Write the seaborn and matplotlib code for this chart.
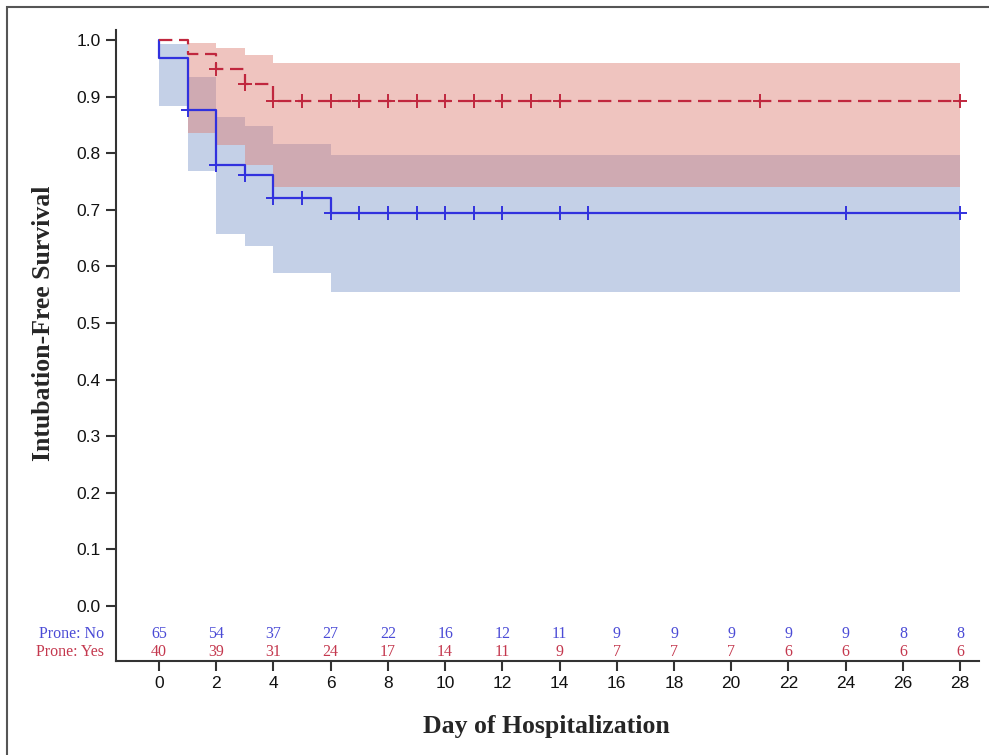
#!/usr/bin/env python3
# Kaplan-Meier: intubation-free survival by prone positioning

import numpy as np
import pandas as pd
import matplotlib
matplotlib.use('Agg')
import matplotlib.pyplot as plt
from matplotlib.patches import Rectangle
import seaborn as sns

# ---- data ----
# step curves (steps-post)
no_time = [0, 0, 1, 2, 3, 4, 6, 28]
no_surv = [1.0, 0.969, 0.877, 0.780, 0.761, 0.721, 0.694, 0.694]
yes_time = [0, 1, 2, 3, 4, 28]
yes_surv = [1.0, 0.975, 0.949, 0.922, 0.892, 0.892]

# censor times
no_censor = [1, 2, 3, 4, 5, 6, 7, 8, 9, 10, 11, 12, 14, 15, 24, 28]
yes_censor = [2, 3, 4, 5, 6, 7, 8, 9, 10, 11, 12, 13, 14, 21, 28]

# confidence bands
no_band_time = [0, 1, 2, 3, 4, 6, 28]
no_lower = [0.884, 0.769, 0.657, 0.636, 0.588, 0.555, 0.555]
no_upper = [0.993, 0.935, 0.864, 0.848, 0.816, 0.797, 0.797]
yes_band_time = [1, 2, 3, 4, 6, 28]
yes_lower = [0.836, 0.815, 0.779, 0.740, 0.740, 0.740]
yes_upper = [0.995, 0.986, 0.974, 0.959, 0.959, 0.959]

# number at risk
risk_days = [0, 2, 4, 6, 8, 10, 12, 14, 16, 18, 20, 22, 24, 26, 28]
risk_no = [65, 54, 37, 27, 22, 16, 12, 11, 9, 9, 9, 9, 9, 8, 8]
risk_yes = [40, 39, 31, 24, 17, 14, 11, 9, 7, 7, 7, 6, 6, 6, 6]

blue = '#3131DE'
red = '#C0273E'
blue_txt = '#4B4BD6'
red_txt = '#C4384E'

sns.set_style('ticks')
plt.rcParams['font.family'] = ['Liberation Sans', 'DejaVu Sans']
serif = ['Liberation Serif', 'DejaVu Serif']

fig = plt.figure(figsize=(9.89, 7.55), dpi=100)
ax = fig.add_axes([0.1173, 0.1245, 0.8726, 0.8358])

# bands
ax.fill_between(no_band_time, no_lower, no_upper, step='post',
                color='#C4D0E7', linewidth=0, zorder=1)
ax.fill_between(yes_band_time, yes_lower, yes_upper, step='post',
                color='#DD7C73', alpha=0.45, linewidth=0, zorder=2)

# survival curves
df_no = pd.DataFrame({'day': no_time, 'surv': no_surv})
df_yes = pd.DataFrame({'day': yes_time, 'surv': yes_surv})
sns.lineplot(data=df_no, x='day', y='surv', estimator=None, sort=False,
             drawstyle='steps-post', color=blue, linewidth=1.6, ax=ax, zorder=4)
sns.lineplot(data=df_yes, x='day', y='surv', estimator=None, sort=False,
             drawstyle='steps-post', color=red, linewidth=1.6, ax=ax, zorder=4)
ax.lines[-1].set_dashes((6, 3))


# censor marks placed on the step curve
def surv_at(times, surv, t):
    idx = np.searchsorted(times, t, side='right') - 1
    return surv[idx]


cen_no = pd.DataFrame({'day': no_censor,
                       'surv': [surv_at(no_time, no_surv, t) for t in no_censor]})
cen_yes = pd.DataFrame({'day': yes_censor,
                        'surv': [surv_at(yes_time, yes_surv, t) for t in yes_censor]})
sns.scatterplot(data=cen_no, x='day', y='surv', marker='+', s=110,
                color=blue, linewidth=1.4, ax=ax, zorder=5, clip_on=False)
sns.scatterplot(data=cen_yes, x='day', y='surv', marker='+', s=110,
                color=red, linewidth=1.4, ax=ax, zorder=5, clip_on=False)

# risk table
fs_risk = 11.5
for d, n in zip(risk_days, risk_no):
    ax.text(d, -0.049, str(n), ha='center', va='center', fontsize=fs_risk,
            color=blue_txt, family=serif)
for d, n in zip(risk_days, risk_yes):
    ax.text(d, -0.081, str(n), ha='center', va='center', fontsize=fs_risk,
            color=red_txt, family=serif)
ax.text(-1.92, -0.049, 'Prone: No', ha='right', va='center', fontsize=fs_risk,
        color=blue_txt, family=serif, clip_on=False)
ax.text(-1.92, -0.081, 'Prone: Yes', ha='right', va='center', fontsize=fs_risk,
        color=red_txt, family=serif, clip_on=False)

# axes
ax.set_xlim(-1.503, 28.66)
ax.set_ylim(-0.0972, 1.0177)
ax.set_xticks(risk_days)
ax.set_yticks(np.round(np.arange(0, 1.01, 0.1), 1))
ax.set_yticklabels([f'{v:.1f}' for v in np.arange(0, 1.01, 0.1)])
ax.tick_params(axis='both', labelsize=12.5, length=7, width=1.5,
               color='#333333', labelcolor='#111111', pad=4)
for side in ['top', 'right']:
    ax.spines[side].set_visible(False)
for side in ['left', 'bottom']:
    ax.spines[side].set_linewidth(1.5)
    ax.spines[side].set_color('#333333')

ax.set_xlabel('Day of Hospitalization', fontsize=18.5, fontweight='bold',
              family=serif)
ax.set_ylabel('Intubation-Free Survival', fontsize=18.5, fontweight='bold',
              family=serif)
ax.xaxis.set_label_coords(0.4989, -0.0848)
ax.yaxis.set_label_coords(-0.0707, 0.5357)

# outer frame
fig.patches.append(Rectangle((0.0071, -0.2), 1.2, 1.1907, fill=False,
                             edgecolor='#555555', linewidth=1.5,
                             transform=fig.transFigure))

fig.savefig('out.png', dpi=100)
